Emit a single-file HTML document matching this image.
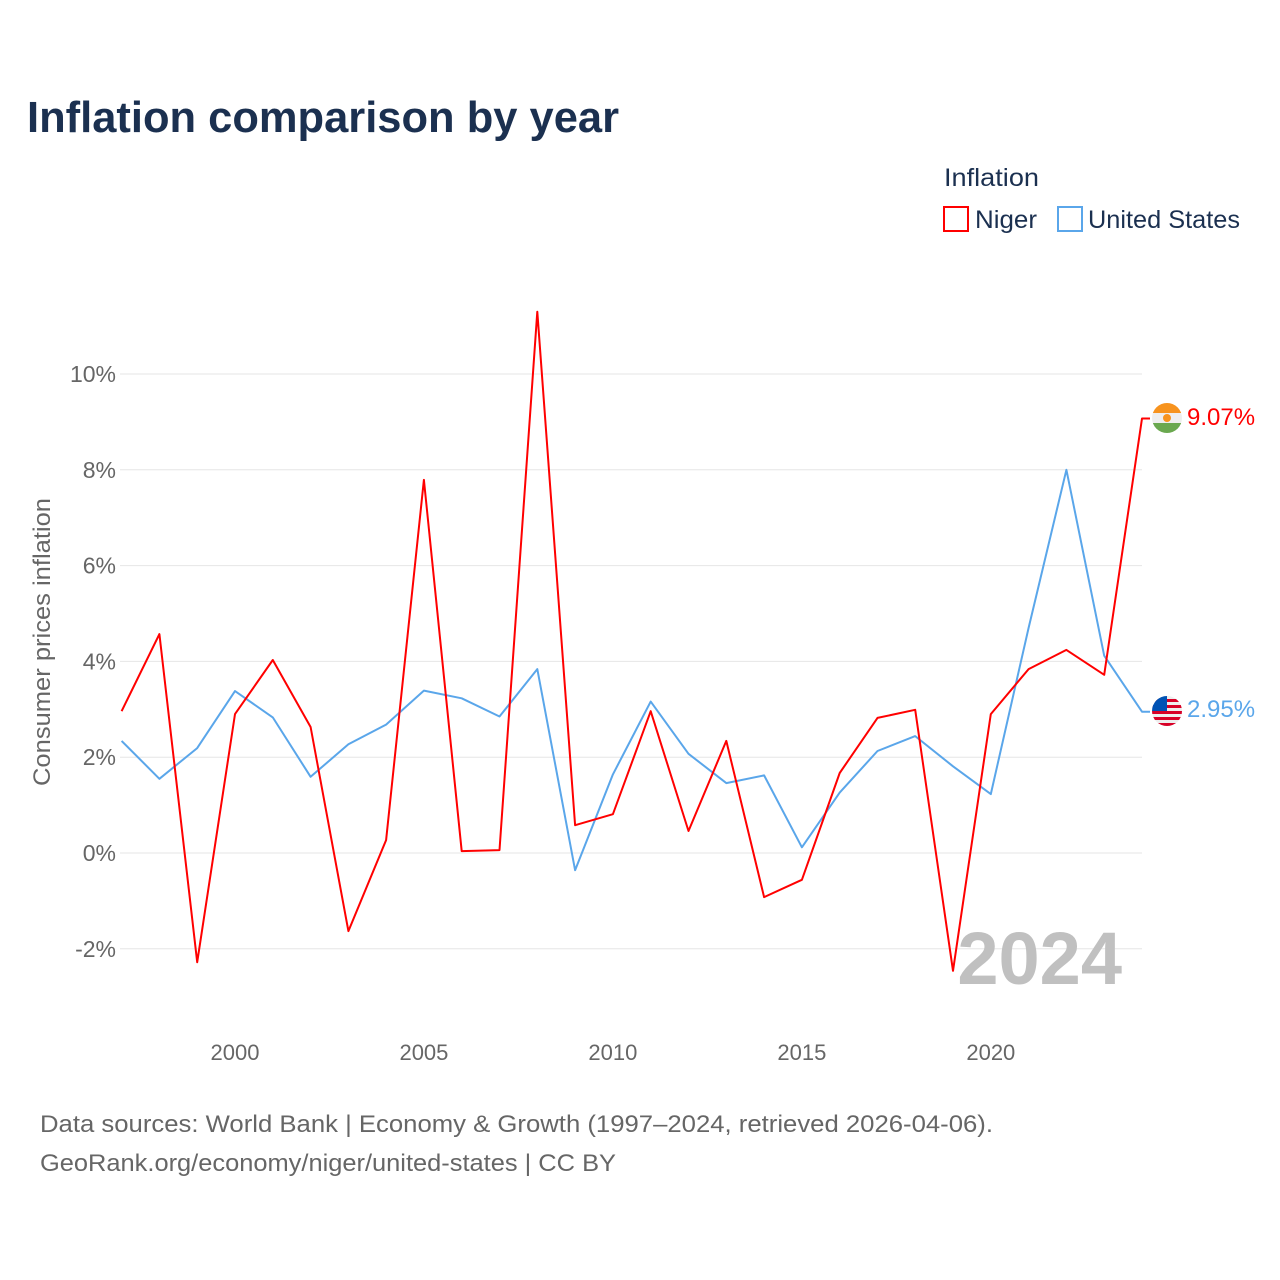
<!DOCTYPE html>
<html><head><meta charset="utf-8"><style>
html,body{margin:0;padding:0;background:#fff;width:1280px;height:1280px;overflow:hidden;font-family:"Liberation Sans",sans-serif}
</style></head><body>
<svg id="chart" width="1280" height="1280" xmlns="http://www.w3.org/2000/svg" font-family="Liberation Sans, sans-serif">
<text x="27" y="132" font-size="44" font-weight="bold" fill="#1b3050" textLength="592" lengthAdjust="spacingAndGlyphs">Inflation comparison by year</text>
<text x="944" y="186" font-size="25" fill="#1b3050" textLength="95" lengthAdjust="spacingAndGlyphs">Inflation</text>
<g><rect x="944" y="207" width="24" height="24" fill="none" stroke="#ff0000" stroke-width="2"/><text x="975" y="228" font-size="25" fill="#1b3050" textLength="62" lengthAdjust="spacingAndGlyphs">Niger</text></g>
<g><rect x="1058" y="207" width="24" height="24" fill="none" stroke="#5aa6ea" stroke-width="2"/><text x="1088" y="228" font-size="25" fill="#1b3050" textLength="152" lengthAdjust="spacingAndGlyphs">United States</text></g>
<text transform="translate(50,642) rotate(-90)" text-anchor="middle" font-size="24" fill="#666" textLength="288" lengthAdjust="spacingAndGlyphs">Consumer prices inflation</text>
<g id="grid"></g><g id="xt"></g>
<text x="1122" y="984" text-anchor="end" font-size="74" font-weight="bold" fill="#c0c0c0">2024</text>
<g id="lines"></g>
<g><clipPath id="cn"><circle cx="1167" cy="418" r="15"/></clipPath><g clip-path="url(#cn)"><rect x="1150" y="403" width="34" height="10" fill="#f7931e"/><rect x="1150" y="413" width="34" height="10" fill="#eee"/><rect x="1150" y="423" width="34" height="12" fill="#6aa84f"/><circle cx="1167" cy="418" r="4" fill="#f7931e"/></g></g>
<g><clipPath id="cu"><circle cx="1167" cy="711" r="15"/></clipPath><g clip-path="url(#cu)"><rect x="1150" y="696" width="34" height="30" fill="#eee"/><rect x="1150" y="699" width="34" height="3" fill="#d80027"/><rect x="1150" y="705" width="34" height="3" fill="#d80027"/><rect x="1150" y="711" width="34" height="3" fill="#d80027"/><rect x="1150" y="717" width="34" height="3" fill="#d80027"/><rect x="1150" y="723" width="34" height="3" fill="#d80027"/><rect x="1150" y="696" width="17" height="15" fill="#0052b4"/></g></g>
<text x="1187" y="425" font-size="24" fill="#ff0000">9.07%</text>
<text x="1187" y="717" font-size="24" fill="#5aa6ea">2.95%</text>
<text x="40" y="1132" font-size="24" fill="#666" textLength="953" lengthAdjust="spacingAndGlyphs">Data sources: World Bank | Economy &amp; Growth (1997–2024, retrieved 2026-04-06).</text>
<text x="40" y="1171" font-size="24" fill="#666" textLength="576" lengthAdjust="spacingAndGlyphs">GeoRank.org/economy/niger/united-states | CC BY</text>
</svg>
<script>
const years=[1997,1998,1999,2000,2001,2002,2003,2004,2005,2006,2007,2008,2009,2010,2011,2012,2013,2014,2015,2016,2017,2018,2019,2020,2021,2022,2023,2024];
const nigerValues=[2.96,4.57,-2.28,2.90,4.03,2.63,-1.63,0.27,7.79,0.04,0.06,11.3,0.58,0.81,2.96,0.46,2.34,-0.92,-0.56,1.67,2.82,2.99,-2.46,2.90,3.84,4.24,3.72,9.07];
const usValues=[2.34,1.55,2.19,3.38,2.83,1.59,2.27,2.68,3.39,3.23,2.85,3.84,-0.36,1.64,3.16,2.07,1.46,1.62,0.12,1.26,2.13,2.44,1.81,1.23,4.70,8.0,4.12,2.95];
const yTicks=[-2,0,2,4,6,8,10];
const xTicks=[2000,2005,2010,2015,2020];
const NS="http://www.w3.org/2000/svg";
const xS=y=>121.6+(y-1997)*(1142-121.6)/27;
const yS=v=>853-v*47.9;
const grid=document.getElementById('grid'),xt=document.getElementById('xt'),lines=document.getElementById('lines');
function mk(t,a,p){const e=document.createElementNS(NS,t);for(const k in a)e.setAttribute(k,a[k]);p.appendChild(e);return e;}
yTicks.forEach(v=>{
 const l=mk('line',{x1:120,x2:1142,y1:yS(v),y2:yS(v),stroke:'#e6e6e6','stroke-width':1},grid);
 
 
 const t=mk('text',{x:116,y:yS(v)+8,'text-anchor':'end','font-size':23,fill:'#666'},grid);
 t.textContent=v+'%';
 
 
});
xTicks.forEach(v=>{
 const t=mk('text',{x:xS(v),y:1060,'text-anchor':'middle','font-size':22,fill:'#666'},xt);
 t.textContent=v;
 
 
});
function line(vals,color,name){
 let d=vals.map((v,i)=>(i?'L':'M')+xS(years[i]).toFixed(1)+','+yS(vals[i]).toFixed(1)).join(' ');
 d+=' L'+(xS(years[years.length-1])+8)+','+yS(vals[vals.length-1]).toFixed(1);
 const p=mk('path',{d:d,fill:'none',stroke:color,'stroke-width':2,'stroke-linejoin':'round'},lines);
 
 
}
line(usValues,'#5aa6ea','us-line');
line(nigerValues,'#ff0000','niger-line');
</script>
</body></html>
